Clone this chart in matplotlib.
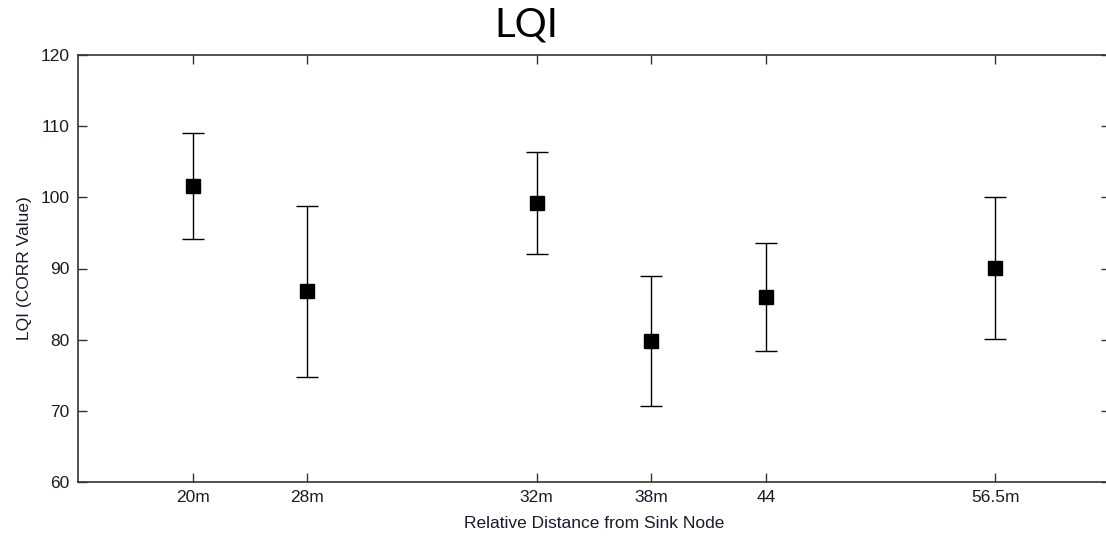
import matplotlib
matplotlib.use('Agg')
from matplotlib import pyplot as plt

# distance labels and LQI stats
labels = ['20m', '28m', '32m', '38m', '44', '56.5m']
positions = [1, 2, 4, 5, 6, 8]
lqi_mean = [101.6, 86.8, 99.2, 79.8, 86.0, 90.1]
lqi_err = [7.5, 12.0, 7.2, 9.1, 7.6, 10.0]

plt.rcParams['font.family'] = ['Liberation Sans', 'DejaVu Sans']

fig = plt.figure(figsize=(11.06, 5.38), dpi=100)
ax = fig.add_axes([78 / 1106, 1 - 482 / 538, (1110 - 78) / 1106, 427 / 538])

ax.errorbar(positions, lqi_mean, yerr=lqi_err, fmt='s', color='black',
            ecolor='black', elinewidth=1.0, capsize=8, capthick=1.0,
            markersize=10)

ax.set_xlim(0, 9)
ax.set_ylim(60, 120)
ax.set_xticks(positions)
ax.set_xticklabels(labels)
ax.set_yticks(range(60, 121, 10))

for s in ax.spines.values():
    s.set_color('#333333')
    s.set_linewidth(1.2)
ax.tick_params(direction='in', length=6.5, width=1.0, color='#333333',
               top=True, right=True, labelsize=12.5, labelcolor='#1a1a2a', pad=6)

ax.set_xlabel('Relative Distance from Sink Node', fontsize=12.5, color='#1a1a2a', labelpad=8)
ax.set_ylabel('LQI (CORR Value)', fontsize=12.5, color='#1a1a2a', labelpad=6)

fig.text(526 / 1106, 1 - 25 / 538, 'LQI', fontsize=29, family=['Lato', 'DejaVu Sans'],
         ha='center', va='center')

fig.savefig('out.png', dpi=100)
